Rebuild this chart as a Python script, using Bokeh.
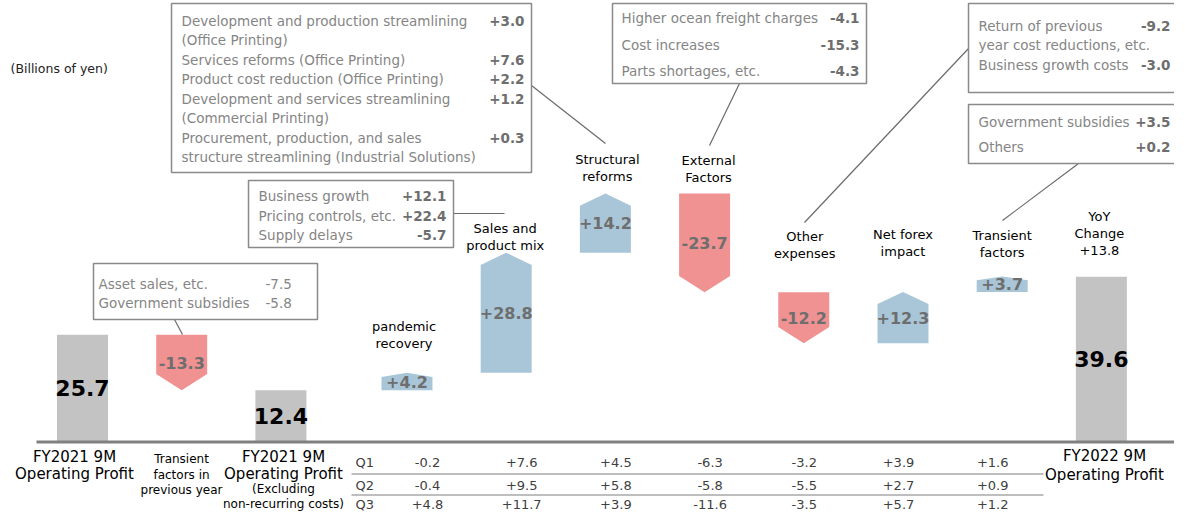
from bokeh.plotting import figure
from bokeh.models import Range1d
from bokeh.embed import file_html
from bokeh.resources import INLINE
from bokeh.core.properties import value

# ---------------- data ----------------
categories = ["FY2021 9M Operating Profit", "Transient factors in previous year",
              "FY2021 9M Operating Profit (Excluding non-recurring costs)",
              "pandemic recovery", "Sales and product mix", "Structural reforms",
              "External Factors", "Other expenses", "Net forex impact",
              "Transient factors", "FY2022 9M Operating Profit"]
kinds = ["total", "delta", "total", "delta", "delta", "delta", "delta",
         "delta", "delta", "delta", "total"]
values = [25.7, -13.3, 12.4, 4.2, 28.8, 14.2, -23.7, -12.2, 12.3, 3.7, 39.6]

quarters = ["Q1", "Q2", "Q3"]
q1 = [-0.2, 7.6, 4.5, -6.3, -3.2, 3.9, 1.6]
q2 = [-0.4, 9.5, 5.8, -5.8, -5.5, 2.7, 0.9]
q3 = [4.8, 11.7, 3.9, -11.6, -3.5, 5.7, 1.2]

yoy_change = "+13.8"
unit_label = "(Billions of yen)"

top_labels = {3: ["pandemic", "recovery"], 4: ["Sales and", "product mix"],
              5: ["Structural", "reforms"], 6: ["External", "Factors"],
              7: ["Other", "expenses"], 8: ["Net forex", "impact"],
              9: ["Transient", "factors"], 10: ["YoY", "Change", yoy_change]}
bottom_labels = {0: ["FY2021 9M", "Operating Profit"],
                 1: ["Transient", "factors in", "previous year"],
                 2: ["FY2021 9M", "Operating Profit", "(Excluding", "non-recurring costs)"],
                 10: ["FY2022 9M", "Operating Profit"]}

callout_structural = [("Development and production streamlining", "+3.0"),
                      (" (Office Printing)", ""),
                      ("Services reforms (Office Printing)", "+7.6"),
                      ("Product cost reduction (Office Printing)", "+2.2"),
                      ("Development and services streamlining", "+1.2"),
                      (" (Commercial Printing)", ""),
                      ("Procurement, production, and sales", "+0.3"),
                      ("structure streamlining (Industrial Solutions)", "")]
callout_sales = [("Business growth", "+12.1"), ("Pricing controls, etc.", "+22.4"),
                 ("Supply delays", "-5.7")]
callout_transient_prev = [("Asset sales, etc.", "-7.5"), ("Government subsidies", "-5.8")]
callout_external = [("Higher ocean freight charges", "-4.1"), ("Cost increases", "-15.3"),
                    ("Parts shortages, etc.", "-4.3")]
callout_other = [("Return of previous", "-9.2"), ("year cost reductions, etc.", ""),
                 ("Business growth costs", "-3.0")]
callout_transient = [("Government subsidies", "+3.5"), ("Others", "+0.2")]

# ---------------- layout / scales ----------------
W, H = 1174, 511
X0, STEP, GAP = 82.0, 99.2, 0.271     # px of first slot, px per slot, gap after 3rd slot
Y0, PPU = 441.5, 4.17                  # px of zero line, px per billion yen


def ux(px):
    return (px - X0) / STEP


def uy(py):
    return (Y0 - py) / PPU


FONT = value("DejaVu Sans")
BLUE, RED, GREY = "#a9c6d8", "#f09292", "#c3c3c3"
DELTA_TXT = "#6e6e6e"
CALL_TXT = "#858585"
CALL_NUM = "#6e6e6e"
BOX_LINE = "#8a8a8a"

p = figure(width=W, height=H, output_backend="svg", toolbar_location=None,
           x_range=Range1d(ux(0), ux(W)), y_range=Range1d(uy(H), uy(0)),
           x_axis_location=None, y_axis_location=None, min_border=0,
           title=None)
p.grid.visible = False
p.outline_line_color = None
p.background_fill_color = "white"
p.border_fill_color = "white"

pos = [i + (GAP if i >= 3 else 0) for i in range(len(values))]
bw = 51.0 / STEP
half = bw / 2

# ---------------- waterfall ----------------
tot_l, tot_r, tot_t = [], [], []
pxs, pys, pcol = [], [], []
lab_x, lab_y, lab_t, lab_c, lab_s = [], [], [], [], []
level = 0.0
for i, (k, v) in enumerate(zip(kinds, values)):
    c = pos[i]
    if k == "total":
        tot_l.append(c - half); tot_r.append(c + half); tot_t.append(v)
        level = v
        lab_x.append(c); lab_y.append(v / 2); lab_t.append(f"{v:.1f}")
        lab_c.append("black"); lab_s.append("22px")
    else:
        base = level
        end = level + v
        hpx = abs(v) * PPU
        if v > 0:
            head = 0.24 * min(51.0, hpx) / PPU
            ys = [base, base, end - head, end, end - head]
            pcol.append(BLUE)
        else:
            head = 0.32 * min(51.0, hpx) / PPU
            ys = [base, base, end + head, end, end + head]
            pcol.append(RED)
        xs = [c - half, c + half, c + half, c, c - half]
        pxs.append(xs); pys.append(ys)
        lab_x.append(c); lab_y.append((base + end) / 2)
        lab_t.append(f"{v:+.1f}"); lab_c.append(DELTA_TXT); lab_s.append("16px")
        level = end

p.quad(left=tot_l, right=tot_r, bottom=0, top=tot_t, fill_color=GREY, line_color=None)
p.patches(xs=pxs, ys=pys, fill_color=pcol, line_color=None)
for x, y, t, c, s in zip(lab_x, lab_y, lab_t, lab_c, lab_s):
    p.text(x=[x], y=[y], text=[t], text_font=FONT, text_font_size=s, text_font_style="bold",
           text_color=c, text_align="center", text_baseline="middle")

# baseline
p.segment(x0=[ux(36)], x1=[ux(W)], y0=[0], y1=[0], line_color="#808080", line_width=3)

# ---------------- category labels ----------------
top_y = {3: 326, 4: 228, 5: 159, 6: 160, 7: 236, 8: 234, 9: 235, 10: 216}
top_dx = {3: -3, 4: -1, 5: 2, 6: 4, 7: 1, 8: 0, 9: 0, 10: -2}
for i, lines in top_labels.items():
    for j, t in enumerate(lines):
        p.text(x=[pos[i] + top_dx[i] / STEP], y=[uy(top_y[i] + 17 * j)], text=[t], text_font=FONT,
               text_font_size="13px", text_color="black", text_align="center",
               text_baseline="middle")

bot_cx = {0: 74, 1: 181, 2: 283, 10: 1104}
bot_rows = {0: [(456, "15px"), (473, "15px")],
            1: [(458, "12px"), (474, "12px"), (489, "12px")],
            2: [(456, "15px"), (473, "15px"), (488, "12px"), (503, "12px")],
            10: [(455, "15px"), (474, "15px")]}
for i, lines in bottom_labels.items():
    for t, (py, fs) in zip(lines, bot_rows[i]):
        p.text(x=[ux(bot_cx[i])], y=[uy(py)], text=[t], text_font=FONT, text_font_size=fs,
               text_color="black", text_align="center", text_baseline="middle")

# ---------------- quarterly table ----------------
rows_y = [462, 484.5, 504]
for qname, qv, ry in zip(quarters, [q1, q2, q3], rows_y):
    p.text(x=[ux(355)], y=[uy(ry)], text=[qname], text_font=FONT, text_font_size="13px",
           text_color="#404040", text_align="left", text_baseline="middle")
    xs = [ux(427 + 94.2 * j) for j in range(len(qv))]
    p.text(x=xs, y=[uy(ry)] * len(qv), text=[f"{v:+.1f}" for v in qv], text_font=FONT,
           text_font_size="13px", text_color="#404040", text_align="center",
           text_baseline="middle")
p.segment(x0=[ux(351)] * 2, x1=[ux(1043)] * 2, y0=[uy(473.5), uy(494.5)],
          y1=[uy(473.5), uy(494.5)], line_color="#a8a8a8", line_width=1.5)

# unit
p.text(x=[ux(10)], y=[uy(68)], text=[unit_label], text_font=FONT, text_font_size="12.5px",
       text_color="#222222", text_align="left", text_baseline="middle")


# ---------------- callouts ----------------
def callout(items, box, text_x, num_x, rows, num_align="right", num_bold=True, fs="13.5px"):
    l, t, r, b = box
    p.quad(left=[ux(l)], right=[ux(r)], top=[uy(t)], bottom=[uy(b)], fill_color="white",
           line_color=BOX_LINE, line_width=1.5)
    for (lab, num), ry in zip(items, rows):
        p.text(x=[ux(text_x)], y=[uy(ry)], text=[lab], text_font=FONT, text_font_size=fs,
               text_color=CALL_TXT, text_align="left", text_baseline="middle")
        if num:
            p.text(x=[ux(num_x)], y=[uy(ry)], text=[num], text_font=FONT, text_font_size=fs,
                   text_color=CALL_NUM if num_bold else CALL_TXT, text_align=num_align,
                   text_baseline="middle", text_font_style="bold" if num_bold else "normal")


def leader(a, b):
    p.segment(x0=[ux(a[0])], y0=[uy(a[1])], x1=[ux(b[0])], y1=[uy(b[1])],
              line_color="#6a6a6a", line_width=1.2)


leader((531, 85), (605, 143))
leader((453, 213), (504, 213))
leader((174, 319), (182, 334))
leader((739, 83), (709, 145))
leader((968, 48), (804, 222))
leader((1078, 163), (1002, 220))

callout(callout_structural, (171, 3, 531, 172), 181, 524,
        [20 + 19.5 * j for j in range(8)], fs="13.5px")
callout(callout_sales, (248, 180, 453, 247), 258, 446, [195, 215, 234], fs="13.5px")
callout(callout_transient_prev, (93, 263, 317, 319), 98, 265, [283, 302],
        num_align="left", num_bold=False, fs="13.5px")
callout(callout_external, (612, 3, 866, 83), 621, 859, [17, 44, 70], fs="13.5px")
callout(callout_other, (968, 3, 1200, 92), 978, 1170, [25, 44, 64], fs="13.5px")
callout(callout_transient, (968, 104, 1200, 163), 978, 1170, [121, 146], fs="13.5px")

open("out.html", "w").write(file_html(p, INLINE))
